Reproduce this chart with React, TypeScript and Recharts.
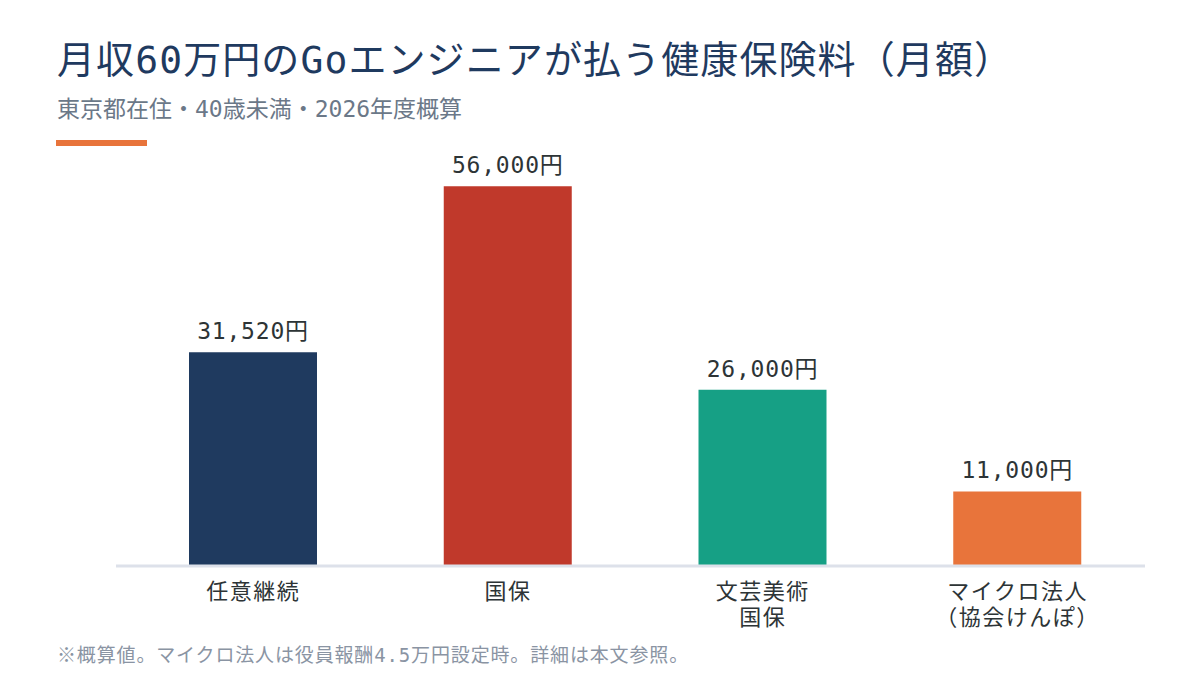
import React from "react";
import { BarChart, Bar, XAxis, YAxis, Cell, LabelList } from "recharts";

const categories = ["任意継続", "国保", "文芸美術\n国保", "マイクロ法人\n（協会けんぽ）"];
const values = [31520, 56000, 26000, 11000];
const valueLabels = ["31,520円", "56,000円", "26,000円", "11,000円"];
const colors = ["#1f3a5f", "#c0392b", "#16a085", "#e8743b"];

const data = categories.map((c, i) => ({ name: c, value: values[i], label: valueLabels[i] }));

const FONT = "'DejaVu Sans Mono', 'Noto Sans CJK JP', monospace";

const Tick = (props: any) => {
  const { x, y, payload } = props;
  const lines = String(payload.value).split("\n");
  return (
    <text x={x} y={y} textAnchor="middle" fill="#2d3436" fontSize={22} letterSpacing={1.5} fontFamily={FONT}>
      {lines.map((l, i) => (
        <tspan key={i} x={x} dy={i === 0 ? 25 : 26}>
          {l}
        </tspan>
      ))}
    </text>
  );
};

export default function App() {
  return (
    <div style={{ position: "absolute", left: 0, top: 0, width: 1200, height: 700, background: "#fff", fontFamily: FONT }}>
      <div style={{ position: "absolute", left: 57, top: 36, fontSize: 38, letterSpacing: 1.1, color: "#1f3a5f", lineHeight: "48px", whiteSpace: "nowrap" }}>
        月収60万円のGoエンジニアが払う健康保険料（月額）
      </div>
      <div style={{ position: "absolute", left: 57, top: 94, fontSize: 23, color: "#6b7888", lineHeight: "30px", whiteSpace: "nowrap" }}>
        東京都在住・40歳未満・2026年度概算
      </div>
      <div style={{ position: "absolute", left: 56, top: 140, width: 91, height: 6, background: "#e8743b" }} />
      <div style={{ position: "absolute", left: 0, top: 0 }}>
        <BarChart width={1200} height={700} data={data} margin={{ top: 159, bottom: 104, left: 116, right: 55 }}>
          <YAxis hide domain={[0, 60000]} />
          <XAxis
            dataKey="name"
            interval={0}
            padding={{ left: 10, right: 0 }}
            axisLine={{ stroke: "#dde1ea", strokeWidth: 3 }}
            tickLine={false}
            tick={<Tick />}
          />
          <Bar dataKey="value" barSize={128} isAnimationActive={false}>
            {data.map((d, i) => (
              <Cell key={i} fill={colors[i]} />
            ))}
            <LabelList dataKey="label" position="top" offset={13} fill="#2d3436" fontSize={23} letterSpacing={0.8} fontFamily={FONT} />
          </Bar>
        </BarChart>
      </div>
      <div style={{ position: "absolute", left: 57, top: 642, fontSize: 19, letterSpacing: 0.85, color: "#8a94a3", lineHeight: "26px", whiteSpace: "nowrap" }}>
        ※概算値。マイクロ法人は役員報酬4.5万円設定時。詳細は本文参照。
      </div>
    </div>
  );
}
